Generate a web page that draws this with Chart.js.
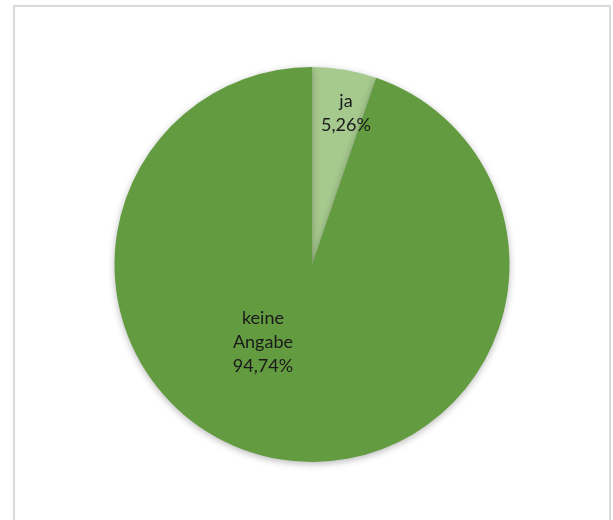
<!DOCTYPE html>
<html lang="de">
<head>
<meta charset="utf-8">
<script src="https://cdn.jsdelivr.net/npm/chart.js@4"></script>
<style>
  html, body { margin: 0; padding: 0; background: #fff; }
  #wrap { position: relative; width: 613px; height: 520px; overflow: hidden; }
  #frame {
    position: absolute; left: 13px; top: 5px; width: 594px; height: 540px;
    border: 2px solid #d9d9d9; pointer-events: none;
  }
  canvas { position: absolute; left: 0; top: 0; }
</style>
</head>
<body>
<div id="wrap">
  <canvas id="myChart" width="613" height="520"></canvas>
  <div id="frame"></div>
</div>
<script>
const labels = ['ja', 'keine Angabe'];
const values = [5.26, 94.74];
const colors = ['#a6c98e', '#639b40'];

// where each data label sits: radius fraction and angle shift (deg) off the slice middle
const labelRadius = [0.785, 0.465];
const labelShift = [3.2, 22.8];

function fmtPercent(v) {
    return v.toFixed(2).replace('.', ',') + '%';
}

const shadowPlugin = {
    id: 'sliceShadow',
    beforeDatasetsDraw(chart) {
        const ctx = chart.ctx;
        ctx.save();
        ctx.shadowColor = 'rgba(0,0,0,0.28)';
        ctx.shadowBlur = 7;
        ctx.shadowOffsetY = 2;
    },
    afterDatasetsDraw(chart) {
        chart.ctx.restore();
    }
};

const labelPlugin = {
    id: 'sliceLabels',
    afterDraw(chart) {
        const ctx = chart.ctx;
        const meta = chart.getDatasetMeta(0);
        ctx.save();
        ctx.font = '18px Lato, "Open Sans", sans-serif';
        ctx.fillStyle = '#1a1a1a';
        ctx.textAlign = 'center';
        ctx.textBaseline = 'middle';
        const lineH = 24;
        meta.data.forEach((arc, i) => {
            const p = arc.getProps(['x', 'y', 'startAngle', 'endAngle', 'outerRadius'], true);
            const mid = (p.startAngle + p.endAngle) / 2 + labelShift[i] * Math.PI / 180;
            const r = p.outerRadius * labelRadius[i];
            const cx = p.x + Math.cos(mid) * r;
            const cy = p.y + Math.sin(mid) * r;
            const lines = labels[i].split(' ').concat([fmtPercent(values[i])]);
            const top = cy - (lines.length - 1) * lineH / 2;
            lines.forEach((t, k) => ctx.fillText(t, cx, top + k * lineH));
        });
        ctx.restore();
    }
};

const data = {
    labels: labels,
    datasets: [{
        data: values,
        backgroundColor: colors,
        borderWidth: 0
    }]
};

const config = {
    type: 'pie',
    data: data,
    options: {
        responsive: false,
        animation: false,
        layout: {
            padding: { left: 114, right: 103, top: 67, bottom: 58 }
        },
        plugins: {
            legend: { display: false },
            tooltip: { enabled: false }
        }
    },
    plugins: [shadowPlugin, labelPlugin]
};

const myChart = new Chart(document.getElementById('myChart').getContext('2d'), config);
</script>
</body>
</html>
